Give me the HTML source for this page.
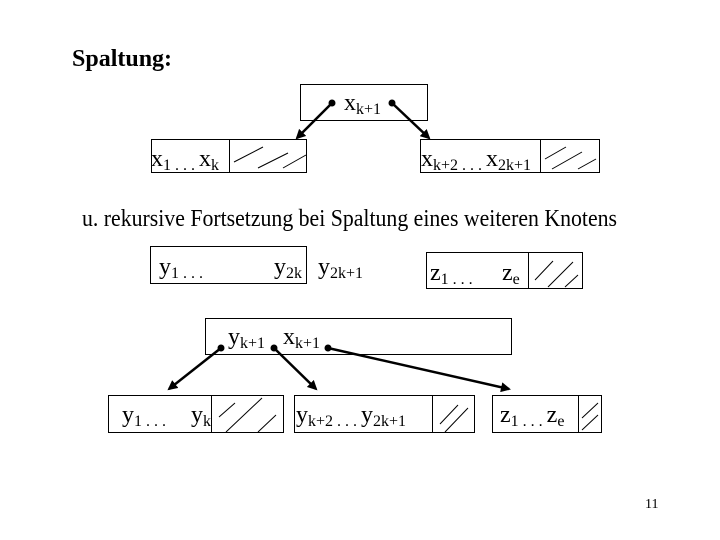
<!DOCTYPE html>
<html><head><meta charset="utf-8"><style>
html,body{margin:0;padding:0;background:#fff}
svg{display:block}
text{font-family:"Liberation Serif",serif;fill:#000}
</style></head><body>
<svg width="720" height="540" viewBox="0 0 720 540" xmlns="http://www.w3.org/2000/svg">
<defs>
<marker id="ah" markerWidth="10" markerHeight="10" refX="8" refY="5" orient="auto" markerUnits="userSpaceOnUse">
<path d="M0,0 L10,5 L0,10 z" fill="#000"/>
</marker>
</defs>
<g stroke="#000" stroke-width="1" fill="none">
<rect x="300.5" y="84.5" width="127" height="36"/>
<rect x="151.5" y="139.5" width="155" height="33"/>
<line x1="229.5" y1="139" x2="229.5" y2="173"/>
<rect x="420.5" y="139.5" width="179" height="33"/>
<line x1="540.5" y1="139" x2="540.5" y2="173"/>
<path d="M234,162 L263,147 M258,168 L288,153 M283,168 L306,155"/>
<path d="M545,159 L566,147 M552,169 L582,152 M578,169 L596,159"/>
<rect x="150.5" y="246.5" width="156" height="37"/>
<rect x="426.5" y="252.5" width="156" height="36"/>
<line x1="528.5" y1="252" x2="528.5" y2="289"/>
<path d="M535,280 L553,261 M548,287 L573,262 M565,287 L578,275"/>
<rect x="205.5" y="318.5" width="306" height="36"/>
<rect x="108.5" y="395.5" width="175" height="37"/>
<line x1="211.5" y1="395" x2="211.5" y2="433"/>
<path d="M219,417 L235,403 M226,432 L262,398 M258,432 L276,415"/>
<rect x="294.5" y="395.5" width="180" height="37"/>
<line x1="432.5" y1="395" x2="432.5" y2="433"/>
<path d="M440,424 L458,405 M445,432 L468,408"/>
<rect x="492.5" y="395.5" width="109" height="37"/>
<line x1="578.5" y1="395" x2="578.5" y2="433"/>
<path d="M582,418 L598,403 M582,430 L598,415"/>
</g>
<g stroke="#000" stroke-width="2.5" fill="none">
<line x1="332" y1="103" x2="297" y2="138" marker-end="url(#ah)"/>
<line x1="392" y1="103" x2="429" y2="138" marker-end="url(#ah)"/>
<line x1="221" y1="348" x2="169" y2="389" marker-end="url(#ah)"/>
<line x1="274" y1="348" x2="316" y2="389" marker-end="url(#ah)"/>
<line x1="328" y1="348" x2="509" y2="389" marker-end="url(#ah)"/>
</g>
<g fill="#000">
<circle cx="332" cy="103" r="3.5"/><circle cx="392" cy="103" r="3.5"/>
<circle cx="221" cy="348" r="3.5"/><circle cx="274" cy="348" r="3.5"/><circle cx="328" cy="348" r="3.5"/>
</g>
<text x="72" y="66" font-size="24" font-weight="bold">Spaltung:</text>
<text x="344" y="110" font-size="24">x<tspan font-size="16" dy="4">k+1</tspan></text>
<text x="151" y="166" font-size="24">x<tspan font-size="16" dy="4">1 . . . </tspan><tspan dy="-4">x</tspan><tspan font-size="16" dy="4">k</tspan></text>
<text x="421" y="166" font-size="24">x<tspan font-size="16" dy="4">k+2 . . . </tspan><tspan dy="-4">x</tspan><tspan font-size="16" dy="4">2k+1</tspan></text>
<text x="82" y="226" font-size="24" textLength="535" lengthAdjust="spacingAndGlyphs">u. rekursive Fortsetzung bei Spaltung eines weiteren Knotens</text>
<text x="159" y="274" font-size="24">y<tspan font-size="16" dy="4">1 . . .</tspan></text>
<text x="274" y="274" font-size="24">y<tspan font-size="16" dy="4">2k</tspan></text>
<text x="318" y="274" font-size="24">y<tspan font-size="16" dy="4">2k+1</tspan></text>
<text x="430" y="280" font-size="24">z<tspan font-size="16" dy="4">1 . . .</tspan></text>
<text x="502" y="280" font-size="24">z<tspan font-size="16" dy="4">e</tspan></text>
<text x="228" y="344" font-size="24">y<tspan font-size="16" dy="4">k+1</tspan></text>
<text x="283" y="344" font-size="24">x<tspan font-size="16" dy="4">k+1</tspan></text>
<text x="122" y="422" font-size="24">y<tspan font-size="16" dy="4">1 . . . </tspan></text>
<text x="191" y="422" font-size="24">y<tspan font-size="16" dy="4">k</tspan></text>
<text x="296" y="422" font-size="24">y<tspan font-size="16" dy="4">k+2 . . . </tspan><tspan dy="-4">y</tspan><tspan font-size="16" dy="4">2k+1</tspan></text>
<text x="500" y="422" font-size="24">z<tspan font-size="16" dy="4">1 . . . </tspan><tspan dy="-4">z</tspan><tspan font-size="16" dy="4">e</tspan></text>
<text x="645" y="508" font-size="14">11</text>
</svg>
</body></html>
